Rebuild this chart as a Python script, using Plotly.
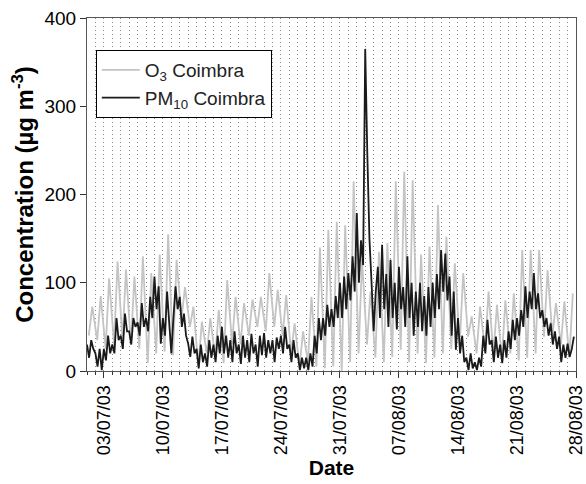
import datetime
import plotly.graph_objects as go

# ---- data ----
start_date = "2003-07-01"
end_date = "2003-08-28"

# O3: nightly minimum (~05h) and afternoon maximum (~15h), one per day from 01/07/03
o3_night = [40, 35, 25, 30, 35, 30, 25, 9, 20, 22,
            18, 60, 50, 5, 20, 15, 9, 31, 30, 40,
            50, 45, 50, 40, 20, 5, 10, 5, 3, 5,
            0, 10, 20, 30, 15, 10, 16, 24, 10, 20,
            9, 15, 20, 25, 31, 39, 20, 24, 20, 15,
            20, 12, 15, 20, 39, 40, 30, 15]
o3_day = [73, 85, 105, 124, 115, 107, 130, 111, 132, 155,
          126, 95, 73, 56, 60, 69, 103, 84, 77, 81,
          84, 111, 92, 86, 54, 45, 84, 140, 160, 169,
          165, 215, 126, 90, 135, 145, 215, 226, 216, 132,
          141, 188, 152, 122, 111, 62, 73, 90, 75, 80,
          88, 137, 137, 137, 114, 77, 79, 88]

# PM10: four readings per day (00h, 06h, 12h, 18h) from 01/07/03
pm10 = [30, 15, 35, 25,   20, 5, 25, 1,     25, 12, 40, 20,   30, 20, 60, 35,
        40, 25, 65, 45,   45, 30, 60, 50,   55, 40, 77, 50,   60, 45, 84, 60,
        107, 70, 96, 31,  60, 40, 90, 50,   20, 60, 96, 70,   84, 50, 65, 40,
        31, 16, 39, 20,   25, 3, 30, 10,    20, 5, 35, 15,    30, 10, 40, 20,
        50, 20, 40, 15,   35, 10, 45, 20,   30, 8, 40, 15,    35, 10, 42, 20,
        30, 5, 40, 18,    43, 15, 35, 20,   35, 10, 38, 25,   40, 20, 50, 25,
        30, 10, 35, 15,   20, 1, 15, 3,     15, 1, 20, 5,     40, 20, 60, 35,
        60, 40, 75, 50,   70, 50, 85, 60,   100, 60, 107, 70, 111, 80, 130, 90,
        179, 100, 148, 120, 365, 245, 150, 100, 45, 90, 118, 60, 143, 70, 110, 50,
        126, 60, 100, 47, 118, 70, 95, 50,  130, 60, 100, 40, 90, 50, 100, 45,
        85, 40, 95, 50,   100, 60, 110, 70, 137, 90, 133, 80, 107, 40, 90, 24,
        60, 20, 40, 10,   15, 1, 20, 3,     10, 1, 15, 5,     40, 20, 58, 30,
        35, 10, 39, 15,   30, 9, 35, 15,    45, 25, 58, 35,   60, 40, 69, 50,
        96, 60, 90, 70,   111, 70, 88, 60,  69, 50, 60, 40,   54, 30, 45, 25,
        39, 10, 30, 15,   31, 16, 25, 39]

y_ticks = [0, 100, 200, 300, 400]

# ---- build time axes ----
t0 = datetime.datetime.fromisoformat(start_date)
o3_x, o3_y = [], []
for d, (lo, hi) in enumerate(zip(o3_night, o3_day)):
    o3_x += [t0 + datetime.timedelta(days=d, hours=5), t0 + datetime.timedelta(days=d, hours=15)]
    o3_y += [lo, hi]
pm_x = [t0 + datetime.timedelta(hours=6 * i) for i in range(len(pm10))]

fig = go.Figure()
fig.add_trace(go.Scatter(x=o3_x, y=o3_y, mode="lines", name="O<sub>3</sub> Coimbra",
                         line=dict(color="#c4c4c4", width=1.8)))
fig.add_trace(go.Scatter(x=pm_x, y=pm10, mode="lines", name="PM<sub>10</sub> Coimbra",
                         line=dict(color="#1a1a1a", width=1.8)))

font_family = "Liberation Sans, Arial, sans-serif"
grid_dash = "1px,3px"
fig.update_layout(
    width=586, height=484,
    margin=dict(l=87, r=10, t=18, b=113, autoexpand=False),
    paper_bgcolor="white", plot_bgcolor="white",
    font=dict(family=font_family, size=18, color="black"),
    showlegend=True,
    legend=dict(x=0.018, y=0.909, xanchor="left", yanchor="top",
                bgcolor="white", bordercolor="black", borderwidth=1,
                font=dict(size=19, color="#222"), tracegroupgap=0,
                itemwidth=38),
)
fig.update_xaxes(
    type="date",
    range=[start_date, end_date],
    tickformat="%d/%m/%y",
    tick0="2003-07-03", dtick=7 * 86400000,
    tickangle=-90, ticklabeloverflow="allow",
    ticks="outside", ticklen=6, tickcolor="#333",
    showline=True, linecolor="#555", linewidth=1, mirror=True,
    showgrid=True, gridcolor="#8a8a8a", griddash=grid_dash, gridwidth=1,
    minor=dict(dtick=86400000, tick0=start_date, ticks="outside", ticklen=3,
               tickcolor="#333", showgrid=True, gridcolor="#8a8a8a", griddash=grid_dash),
    tickfont=dict(size=18),
    title=dict(text="<b>Date</b>", font=dict(size=21), standoff=6),
)
fig.update_yaxes(
    range=[0, 400], tickvals=y_ticks,
    ticks="outside", ticklen=6, tickcolor="#333",
    showline=True, linecolor="#555", linewidth=1, mirror=True,
    showgrid=False, zeroline=False,
    tickfont=dict(size=19),
    title=dict(text="<b>Concentration (µg m<sup>-3</sup>)</b>", font=dict(size=24), standoff=4),
)

fig.write_html("out.html")
